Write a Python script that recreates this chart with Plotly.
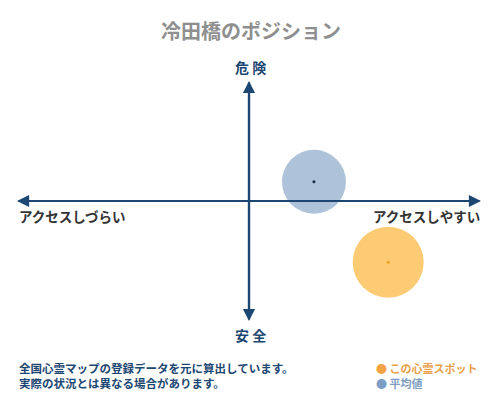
import plotly.graph_objects as go

# position of the spot vs the average, both axes run -1 .. 1
spot_names = ["この心霊スポット", "平均値"]
access_x = [0.60, 0.28]
danger_y = [-0.51, 0.16]
circle_colors = ["rgba(253,190,80,0.8)", "rgba(140,168,201,0.7)"]
legend_dot_colors = ["#f3a345", "#7a9ec4"]
dot_colors = ["#f0a020", "#1a2a40"]
legend_text_colors = ["#e8a04a", "#7d9cbf"]
circle_sizes = [71, 64]

axis_labels = {"top": "危 険", "bottom": "安 全",
               "left": "アクセスしづらい", "right": "アクセスしやすい"}
title = "冷田橋のポジション"
notes = ["全国心霊マップの登録データを元に算出しています。",
         "実際の状況とは異なる場合があります。"]

# the page puts the figure 8px in from the top left corner
OFF = 8
W, H = 500 - OFF, 400 - OFF
ML, MT = 17 - OFF, 81 - OFF
MR, MB = W - (481 - OFF), H - (321 - OFF)
FONT = "Noto Sans CJK JP"
NAVY = "#1d4773"


# screen pixel -> paper coords, for the text outside the plot area
def px(x):
    return (x - OFF - ML) / (W - ML - MR)


def py(y):
    return 1 - (y - OFF - MT) / (H - MT - MB)


fig = go.Figure()

for i in range(len(spot_names)):
    fig.add_trace(go.Scatter(x=[access_x[i]], y=[danger_y[i]], mode="markers",
                             marker=dict(size=circle_sizes[i], color=circle_colors[i], line=dict(width=0)),
                             hoverinfo="skip", showlegend=False))
    fig.add_trace(go.Scatter(x=[access_x[i]], y=[danger_y[i]], mode="markers",
                             marker=dict(size=3, color=dot_colors[i]),
                             name=spot_names[i], showlegend=False))

annotations = []
# each axis drawn twice end to end so both ends get a head and the centre has no gap
for tx, ty in [(1, 0), (-1, 0), (0, 1), (0, -1)]:
    annotations.append(dict(x=tx, y=ty, ax=-tx, ay=-ty, xref="x", yref="y", axref="x", ayref="y",
                            text="", showarrow=True, arrowhead=2, arrowsize=1.1,
                            arrowwidth=2.2, arrowcolor=NAVY))

label_font = dict(family=FONT, size=14, color=NAVY)
side_font = dict(family=FONT, size=13.5, color="#333333")
annotations += [
    dict(x=px(250), y=py(67), text="<b>" + axis_labels["top"] + "</b>", font=label_font),
    dict(x=px(250), y=py(335), text="<b>" + axis_labels["bottom"] + "</b>", font=label_font),
    dict(x=px(17), y=py(216), text="<b>" + axis_labels["left"] + "</b>", xanchor="left", font=side_font),
    dict(x=px(482), y=py(216), text="<b>" + axis_labels["right"] + "</b>", xanchor="right", font=side_font),
    dict(x=px(251), y=py(30), text="<b>" + title + "</b>",
         font=dict(family=FONT, size=20, color="#8f8f8f")),
]
for j, note in enumerate(notes):
    annotations.append(dict(x=px(17), y=py(368 + 15 * j), text="<b>" + note + "</b>", xanchor="left",
                            font=dict(family=FONT, size=11.5, color=NAVY)))
for j, name in enumerate(spot_names):
    annotations.append(dict(x=px(374), y=py(368 + 15 * j),
                            text="<span style='color:%s'>●</span> <b>%s</b>" % (legend_dot_colors[j], name),
                            xanchor="left", font=dict(family=FONT, size=11, color=legend_text_colors[j])))

for a in annotations:
    if "xref" not in a:
        a.update(xref="paper", yref="paper", showarrow=False, yanchor="middle")

fig.update_layout(
    width=W, height=H,
    margin=dict(l=ML, r=MR, t=MT, b=MB),
    paper_bgcolor="white", plot_bgcolor="white",
    xaxis=dict(range=[-1, 1], visible=False, fixedrange=True),
    yaxis=dict(range=[-1, 1], visible=False, fixedrange=True),
    annotations=annotations,
    showlegend=False,
)

fig.write_html("out.html")
